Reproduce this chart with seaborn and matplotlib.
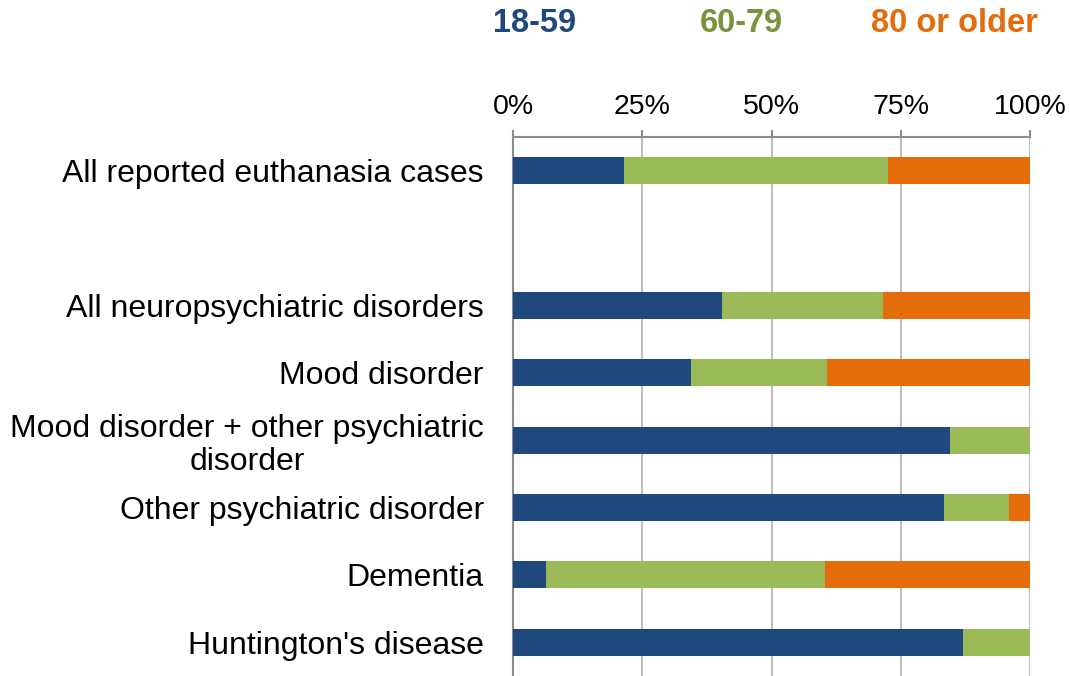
import numpy as np
import pandas as pd
import matplotlib
matplotlib.use("Agg")
import matplotlib.pyplot as plt
import seaborn as sns

categories = [
    "All reported euthanasia cases",
    " ",
    "All neuropsychiatric disorders",
    "Mood disorder",
    "Mood disorder + other psychiatric\ndisorder",
    "Other psychiatric disorder",
    "Dementia",
    "Huntington's disease",
]
age_18_59 = [21.5, np.nan, 40.5, 34.5, 84.6, 83.3, 6.3, 87.0]
age_60_79 = [51.1, np.nan, 31.0, 26.3, 15.4, 12.6, 54.0, 13.0]
age_80_plus = [27.4, np.nan, 28.5, 39.2, 0.0, 4.1, 39.7, 0.0]
series_names = ["18-59", "60-79", "80 or older"]
xticks = [0, 25, 50, 75, 100]
xtick_labels = ["0%", "25%", "50%", "75%", "100%"]

bar_colors = ["#1F497D", "#9BBB59", "#E46C0A"]
text_colors = ["#1F497D", "#77933C", "#E46C0A"]

sns.set_style("white")
plt.rcParams["font.family"] = ["Liberation Sans", "DejaVu Sans"]

df = pd.DataFrame({
    "category": categories,
    "b": age_18_59,
    "g": age_60_79,
    "o": age_80_plus,
})
df["cum_g"] = df["b"] + df["g"]
df["cum_o"] = df["b"] + df["g"] + df["o"]

fig = plt.figure(figsize=(10.7, 6.76), dpi=100)
ax = fig.add_axes([513 / 1070, 0.0, (1030 - 513) / 1070, 1 - 137 / 676])

for col, color in zip(["cum_o", "cum_g", "b"], bar_colors[::-1]):
    sns.barplot(data=df, y="category", x=col, order=categories, color=color,
                saturation=1, width=0.40, orient="h", ax=ax, errorbar=None,
                edgecolor="none", linewidth=0, zorder=3)

ax.set_xlim(0, 100)
ax.set_ylim(len(categories) - 0.5, -0.5)
ax.set_xlabel("")
ax.set_ylabel("")
ax.xaxis.tick_top()
ax.set_xticks(xticks)
ax.set_xticklabels(xtick_labels, fontsize=20.5, color="#000000")
ax.tick_params(axis="x", which="both", top=True, bottom=False, length=5,
               width=1.5, color="#8C8C8C", pad=7)
ax.tick_params(axis="y", length=0, pad=21, labelsize=23)
for lbl in ax.get_yticklabels():
    lbl.set_multialignment("center")
    lbl.set_linespacing(1.15)
    lbl.set_color("#000000")

ax.grid(axis="x", color="#BFBFBF", linewidth=1.5, zorder=0)
ax.grid(axis="y", visible=False)
for side in ["right", "bottom"]:
    ax.spines[side].set_visible(False)
for side in ["left", "top"]:
    ax.spines[side].set_visible(True)
    ax.spines[side].set_color("#8C8C8C")
    ax.spines[side].set_linewidth(1.5)
ax.set_axisbelow(True)

legend_x = [535, 741, 954]
for name, x, c in zip(series_names, legend_x, text_colors):
    fig.text(x / 1070, 1 - 23 / 676, name, ha="center", va="center",
             fontsize=23.5, fontweight="bold", color=c)

fig.savefig("out.png", dpi=100)
